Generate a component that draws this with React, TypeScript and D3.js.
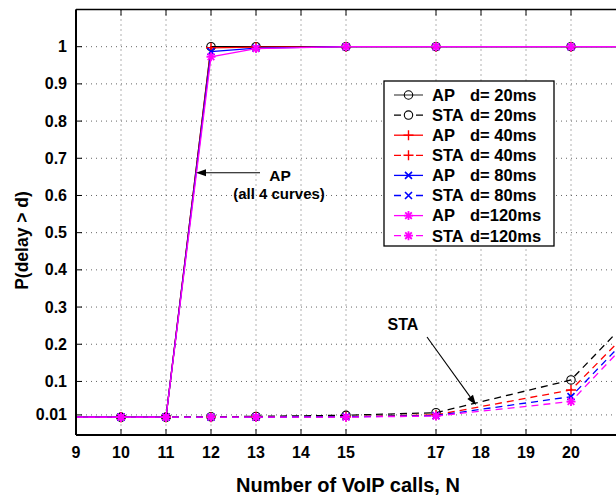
import React from 'react';
import * as d3 from 'd3';

const W = 616;
const H = 496;

// number of VoIP calls
const calls = [9, 10, 11, 12, 13, 15, 17, 20, 21];

// P(delay > d)
const ap20 = [0.004, 0.004, 0.004, 1.0, 1.0, 1.0, 1.0, 1.0, 1.0];
const sta20 = [0.004, 0.004, 0.004, 0.005, 0.006, 0.009, 0.016, 0.104, 0.23];
const ap40 = [0.004, 0.004, 0.004, 0.997, 0.999, 1.0, 1.0, 1.0, 1.0];
const sta40 = [0.004, 0.004, 0.004, 0.004, 0.005, 0.005, 0.01, 0.077, 0.2];
const ap80 = [0.004, 0.004, 0.004, 0.987, 0.996, 1.0, 1.0, 1.0, 1.0];
const sta80 = [0.004, 0.004, 0.004, 0.004, 0.004, 0.005, 0.008, 0.059, 0.185];
const ap120 = [0.004, 0.004, 0.004, 0.973, 0.995, 1.0, 1.0, 1.0, 1.0];
const sta120 = [0.004, 0.004, 0.004, 0.004, 0.004, 0.004, 0.007, 0.046, 0.173];

const xTicks = [9, 10, 11, 12, 13, 14, 15, 17, 18, 19, 20];
const yTicks = [0.01, 0.1, 0.2, 0.3, 0.4, 0.5, 0.6, 0.7, 0.8, 0.9, 1];
const yTickLabels = ['0.01', '0.1', '0.2', '0.3', '0.4', '0.5', '0.6', '0.7', '0.8', '0.9', '1'];

const legendLabels = [
  ['AP', 'd= 20ms'], ['STA', 'd= 20ms'],
  ['AP', 'd= 40ms'], ['STA', 'd= 40ms'],
  ['AP', 'd= 80ms'], ['STA', 'd= 80ms'],
  ['AP', 'd=120ms'], ['STA', 'd=120ms'],
];

const series = [
  { vals: ap20, color: '#000', dashed: false, marker: 'o' },
  { vals: sta20, color: '#000', dashed: true, marker: 'o' },
  { vals: ap40, color: '#f00', dashed: false, marker: '+' },
  { vals: sta40, color: '#f00', dashed: true, marker: '+' },
  { vals: ap80, color: '#00f', dashed: false, marker: 'x' },
  { vals: sta80, color: '#00f', dashed: true, marker: 'x' },
  { vals: ap120, color: '#f0f', dashed: false, marker: '*' },
  { vals: sta120, color: '#f0f', dashed: true, marker: '*' },
];

const markerCalls = [10, 11, 12, 13, 15, 17, 20];

const FONT = '"Liberation Sans", Arial, Helvetica, sans-serif';

const left = 76, top = 9.5, bottom = 435;
const x = d3.scaleLinear().domain([9, 21]).range([left, 616]);
const y = d3.scaleLinear().domain([-0.044, 1.1]).range([bottom, top]);

function Marker({ type, cx, cy, color }: { type: string; cx: number; cy: number; color: string }) {
  if (type === 'o') return <circle cx={cx} cy={cy} r={4.2} fill="none" stroke={color} strokeWidth={1.1} />;
  if (type === '+') return <path d={`M${cx - 5},${cy}H${cx + 5}M${cx},${cy - 5}V${cy + 5}`} stroke={color} strokeWidth={1.4} />;
  if (type === 'x') return <path d={`M${cx - 3.5},${cy - 3.5}L${cx + 3.5},${cy + 3.5}M${cx - 3.5},${cy + 3.5}L${cx + 3.5},${cy - 3.5}`} stroke={color} strokeWidth={1.6} />;
  return (
    <g stroke={color} strokeWidth={1.8}>
      <path d={`M${cx - 4.5},${cy}H${cx + 4.5}M${cx},${cy - 4.5}V${cy + 4.5}`} />
      <path d={`M${cx - 3.3},${cy - 3.3}L${cx + 3.3},${cy + 3.3}M${cx - 3.3},${cy + 3.3}L${cx + 3.3},${cy - 3.3}`} />
      <circle cx={cx} cy={cy} r={2.2} fill={color} stroke="none" />
    </g>
  );
}

function Arrow({ x1, y1, x2, y2 }: { x1: number; y1: number; x2: number; y2: number }) {
  const a = Math.atan2(y2 - y1, x2 - x1);
  const L = 10, hw = 3.5;
  const bx = x2 - L * Math.cos(a), by = y2 - L * Math.sin(a);
  const px = -Math.sin(a) * hw, py = Math.cos(a) * hw;
  return (
    <g>
      <line x1={x1} y1={y1} x2={bx} y2={by} stroke="#000" strokeWidth={1.1} />
      <polygon points={`${x2},${y2} ${bx + px},${by + py} ${bx - px},${by - py}`} fill="#000" />
    </g>
  );
}

export default function App() {
  const line = d3.line<number>().x((_, i) => x(calls[i])).y((d) => y(d));
  const lgX = 384, lgY = 81, lgW = 170, lgH = 165;
  return (
    <svg width={W} height={H} style={{ position: 'absolute', left: 0, top: 0 }} fontFamily={FONT}>
      <rect width={W} height={H} fill="#fff" />
      <defs>
        <clipPath id="plot">
          <rect x={left} y={top} width={W - left} height={bottom - top} />
        </clipPath>
      </defs>
      {/* grid */}
      <g stroke="#666" strokeWidth={1} strokeDasharray="1,4">
        {xTicks.filter((t) => t > 9).map((t) => (
          <line key={t} x1={x(t)} x2={x(t)} y1={top} y2={bottom} />
        ))}
        {yTicks.map((t) => (
          <line key={t} x1={left} x2={W} y1={y(t)} y2={y(t)} />
        ))}
      </g>
      {/* tick marks */}
      <g stroke="#000" strokeWidth={1}>
        {xTicks.map((t) => (
          <g key={t}>
            <line x1={x(t)} x2={x(t)} y1={bottom} y2={bottom - 6} />
            <line x1={x(t)} x2={x(t)} y1={top} y2={top + 6} />
          </g>
        ))}
        {yTicks.map((t) => (
          <line key={t} x1={left} x2={left + 6} y1={y(t)} y2={y(t)} />
        ))}
      </g>
      {/* series */}
      <g clipPath="url(#plot)">
        {series.map((s, i) => (
          <g key={i}>
            <path d={line(s.vals) || ''} fill="none" stroke={s.color} strokeWidth={1.3}
              strokeDasharray={s.dashed ? '7,5' : undefined} />
            {calls.map((c, j) =>
              markerCalls.includes(c) ? (
                <Marker key={j} type={s.marker} cx={x(c)} cy={y(s.vals[j])} color={s.color} />
              ) : null
            )}
          </g>
        ))}
      </g>
      {/* frame */}
      <line x1={left} x2={W} y1={top} y2={top} stroke="#000" strokeWidth={1.3} />
      <line x1={left} x2={left} y1={top} y2={bottom} stroke="#000" strokeWidth={2} />
      <line x1={left} x2={W} y1={bottom} y2={bottom} stroke="#000" strokeWidth={2} />
      {/* tick labels */}
      <g fontSize={16} fontWeight="bold" fill="#000">
        {xTicks.map((t) => (
          <text key={t} x={x(t)} y={458} textAnchor="middle">{t}</text>
        ))}
        {yTicks.map((t, i) => (
          <text key={t} x={67} y={y(t) + 5.5} textAnchor="end">{yTickLabels[i]}</text>
        ))}
      </g>
      <text x={348} y={492} textAnchor="middle" fontSize={20} fontWeight="bold">Number of VoIP calls, N</text>
      <text transform="translate(27.5,240.5) rotate(-90)" textAnchor="middle" fontSize={17.5} fontWeight="bold">P(delay &gt; d)</text>
      {/* annotations */}
      <Arrow x1={260} y1={172.7} x2={196} y2={172.7} />
      <text x={280} y={181} textAnchor="middle" fontSize={15.5} fontWeight="bold">AP</text>
      <text x={279} y={199} textAnchor="middle" fontSize={15} fontWeight="bold">(all 4 curves)</text>
      <Arrow x1={427} y1={337} x2={476} y2={405} />
      <text x={403} y={330} textAnchor="middle" fontSize={16} fontWeight="bold">STA</text>
      {/* legend */}
      <rect x={lgX} y={lgY} width={lgW} height={lgH} fill="#fff" stroke="#000" strokeWidth={1.3} />
      {series.map((s, i) => {
        const cy = 95 + i * 20.1;
        return (
          <g key={i}>
            {s.dashed ? (
              <path d={`M394,${cy}H401M416,${cy}H423`} stroke={s.color} strokeWidth={1.3} />
            ) : (
              <line x1={394} x2={423} y1={cy} y2={cy} stroke={s.color === '#000' ? '#555' : s.color} strokeWidth={1.3} />
            )}
            <Marker type={s.marker} cx={408.5} cy={cy} color={s.color} />
            <text x={432} y={cy + 5.8} fontSize={16.5} fontWeight="bold">{legendLabels[i][0]}</text>
            <text x={470} y={cy + 5.8} fontSize={16.5} fontWeight="bold">{legendLabels[i][1]}</text>
          </g>
        );
      })}
    </svg>
  );
}
